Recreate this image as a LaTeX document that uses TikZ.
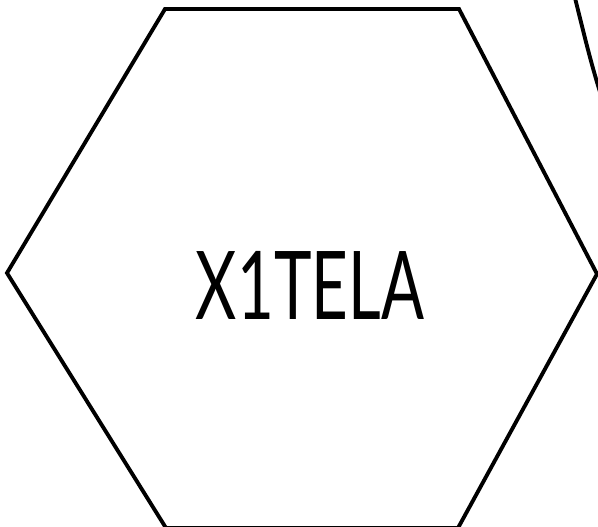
\documentclass[tikz,border=0pt]{standalone}
\usepackage{fontspec}
\setsansfont{Lato}
\usepackage{tikz}
\usetikzlibrary{positioning}

\begin{document}
\begin{tikzpicture}[x=0.02cm, y=-0.02cm, line width=2.2pt, line join=miter]
	\useasboundingbox (0,0) rectangle (598,527);
	\clip (0,0) rectangle (598,527);
	% hexagon
	\draw (165,9) -- (459,9) -- (597,274) -- (458,528) -- (166,528) -- (7,273) -- cycle;
	% edge of the neighbouring shape
	\draw (575,-2) .. controls (583,30) and (590,60) .. (600,92);
	\node[font=\sffamily\fontsize{54}{60}\selectfont, xscale=0.67] (name) at (310,285) {X1TELA};
\end{tikzpicture}
\end{document}
